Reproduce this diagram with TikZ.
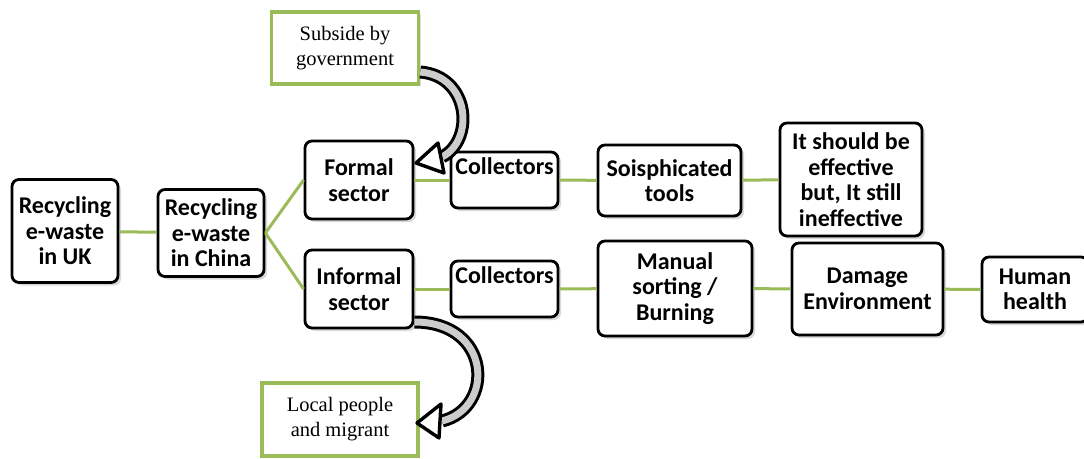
\documentclass[tikz,border=0pt]{standalone}
\usepackage{fontspec}
\setmainfont{Liberation Serif}
\newfontfamily\boxfont{Carlito}
\usepackage{tikz}
\usetikzlibrary{shadows}
\definecolor{leaf}{RGB}{155,187,89}
\tikzset{
 stage/.style={draw, line width=2.8pt, rounded corners=7pt, fill=white, align=center, inner sep=0pt,
   font=\boxfont\bfseries\fontsize{24}{25.5}\selectfont,
   drop shadow={opacity=0.3, shadow xshift=3pt, shadow yshift=-3pt}},
 note/.style={draw=leaf, line width=3.5pt, fill=white, align=center, inner sep=0pt,
   font=\fontsize{20.5}{25}\selectfont,
   drop shadow={opacity=0.25, shadow xshift=2pt, shadow yshift=-2pt}},
 link/.style={leaf, line width=3pt},
 bendout/.style={line width=13pt, black},
 bendin/.style={line width=7pt, gray!40},
 bendhead/.style={draw=black, fill=white, line width=3.4pt, line join=round}
}

\begin{document}
\begin{tikzpicture}[x=1pt, y=-1pt]
\useasboundingbox (0,0) rectangle (1084,458);
\clip (0,0) rectangle (1084,458);
% main chain
\node[stage, minimum width=106pt, minimum height=103pt] (uk) at (65,231) {Recycling\\e-waste\\in UK};
\node[stage, minimum width=106pt, minimum height=87pt] (china) at (211,233) {Recycling\\e-waste\\in China};
\node[stage, minimum width=108pt, minimum height=78pt] (formal) at (359,180) {Formal\\sector};
\node[stage, minimum width=108pt, minimum height=78pt] (informal) at (359,289) {Informal\\sector};
% formal branch
\node[stage, minimum width=107pt, minimum height=56pt] (coltop) at (504.5,180) {Collectors\\[2pt]~};
\node[stage, minimum width=143pt, minimum height=71pt] (tools) at (669.5,180.5) {Soisphicated\\tools};
\node[stage, minimum width=142pt, minimum height=113pt] (effect) at (851,179.5) {It should be\\effective\\but, It still\\ineffective};
% informal branch
\node[stage, minimum width=107pt, minimum height=56pt] (colbot) at (504.5,289) {Collectors\\[2pt]~};
\node[stage, minimum width=154pt, minimum height=95pt] (manual) at (675,288.5) {Manual\\sorting /\\Burning};
\node[stage, minimum width=151pt, minimum height=92pt] (damage) at (867.5,289) {Damage\\Environment};
\node[stage, minimum width=106pt, minimum height=65pt] (human) at (1035,289.5) {Human\\health};
% side notes
\node[note, minimum width=147pt, minimum height=72pt] (subside) at (345,48) {Subside by\\government};
\node[note, minimum width=156pt, minimum height=73pt] (local) at (340,419.5) {Local people\\and migrant};

\draw[link] (uk) -- (china);
\draw[link] (china.east) -- (formal.west);
\draw[link] (china.east) -- (informal.west);
\draw[link] (formal) -- (coltop);
\draw[link] (coltop) -- (tools);
\draw[link] (tools) -- (effect);
\draw[link] (informal) -- (colbot);
\draw[link] (colbot) -- (manual);
\draw[link] (manual) -- (damage);
\draw[link] (damage) -- (human);

% bent arrows
\coordinate (s1) at (subside.east |- 0,72);
\coordinate (e1) at (442,157);
\draw[bendout] (s1) .. controls (470,76) and (475,140) .. (e1);
\draw[bendin] (s1) .. controls (470,76) and (475,140) .. (e1);
\draw[bendhead] (416,163) -- (438,143) -- (444,173) -- cycle;

\coordinate (s2) at (informal.east |- 0,322);
\coordinate (e2) at (442,421);
\draw[bendout] (s2) .. controls (492,322) and (495,408) .. (e2);
\draw[bendin] (s2) .. controls (492,322) and (495,408) .. (e2);
\draw[bendhead] (417,423) -- (441,404) -- (439,438) -- cycle;
\end{tikzpicture}
\end{document}
